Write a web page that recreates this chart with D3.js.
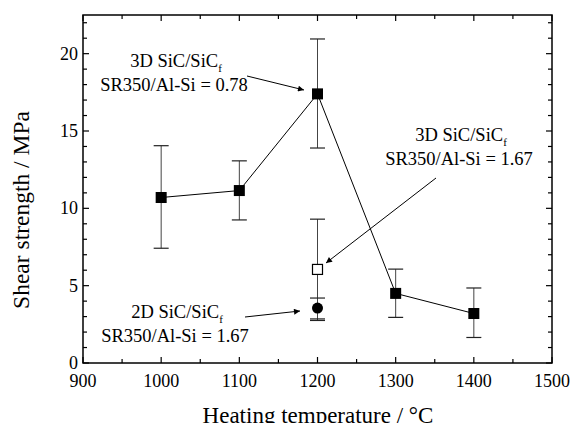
<!DOCTYPE html>
<html>
<head>
<meta charset="utf-8">
<script src="https://cdn.jsdelivr.net/npm/d3@7"></script>
<style>
  body { margin: 0; background: #fff; }
  svg { font-family: 'Liberation Serif', 'DejaVu Serif', serif; }
</style>
</head>
<body>
<div class="container"></div>
<script>
// main series (3D SiC/SiCf, SR350/Al-Si = 0.78)
var temps = [1000, 1100, 1200, 1300, 1400];
var strength = [10.7, 11.15, 17.4, 4.5, 3.2];
var errLow = [7.42, 9.25, 13.9, 2.95, 1.65];
var errHigh = [14.05, 13.07, 20.95, 6.07, 4.85];

// 3D SiC/SiCf, SR350/Al-Si = 1.67 (open square)
var openT = [1200];
var openVal = [6.05];
var openLow = [2.75];
var openHigh = [9.3];

// 2D SiC/SiCf, SR350/Al-Si = 1.67 (circle)
var circT = [1200];
var circVal = [3.55];
var circLow = [2.85];
var circHigh = [4.2];

var xTicks = [900, 1000, 1100, 1200, 1300, 1400, 1500];
var yTicks = [0, 5, 10, 15, 20];

var width = 572, height = 423;
var pLeft = 83, pRight = 552, pTop = 15, pBottom = 363;
var serif = "'Liberation Serif', 'DejaVu Serif', serif";

var x = d3.scaleLinear().domain([900, 1500]).range([pLeft, pRight]);
var y = d3.scaleLinear().domain([0, 22.5]).range([pBottom, pTop]);

var svg = d3.select('.container')
    .append('svg')
    .attr('width', width)
    .attr('height', height)
    .attr('font-family', serif);

// minor ticks / major ticks, all pointing inward
var xMinor = d3.range(900, 1501, 50);
var yMinor = d3.range(0, 22.6, 1);

function tickLen(major) { return major ? 6 : 4; }

svg.append('g').selectAll('line')
    .data(xMinor)
    .enter()
    .append('line')
    .attr('x1', d => x(d)).attr('x2', d => x(d))
    .attr('y1', pBottom).attr('y2', d => pBottom - tickLen(d % 100 == 0))
    .style('stroke', 'black').style('stroke-width', 1.2);

svg.append('g').selectAll('line')
    .data(xMinor)
    .enter()
    .append('line')
    .attr('x1', d => x(d)).attr('x2', d => x(d))
    .attr('y1', pTop).attr('y2', d => pTop + tickLen(d % 100 == 0))
    .style('stroke', 'black').style('stroke-width', 1.2);

svg.append('g').selectAll('line')
    .data(yMinor)
    .enter()
    .append('line')
    .attr('x1', pLeft).attr('x2', d => pLeft + tickLen(d % 5 == 0))
    .attr('y1', d => y(d)).attr('y2', d => y(d))
    .style('stroke', 'black').style('stroke-width', 1.2);

svg.append('g').selectAll('line')
    .data(yMinor)
    .enter()
    .append('line')
    .attr('x1', pRight).attr('x2', d => pRight - tickLen(d % 5 == 0))
    .attr('y1', d => y(d)).attr('y2', d => y(d))
    .style('stroke', 'black').style('stroke-width', 1.2);

// frame
svg.append('rect')
    .attr('x', pLeft).attr('y', pTop)
    .attr('width', pRight - pLeft).attr('height', pBottom - pTop)
    .style('fill', 'none').style('stroke', 'black').style('stroke-width', 1.5);

// tick labels
svg.append('g').selectAll('text')
    .data(xTicks)
    .enter()
    .append('text')
    .attr('x', d => x(d))
    .attr('y', 387)
    .attr('text-anchor', 'middle')
    .style('font-family', serif)
    .style('font-size', '18px')
    .text(d => d);

svg.append('g').selectAll('text')
    .data(yTicks)
    .enter()
    .append('text')
    .attr('x', pLeft - 5)
    .attr('y', d => y(d) + 6)
    .attr('text-anchor', 'end')
    .style('font-family', serif)
    .style('font-size', '18px')
    .text(d => d);

// axis titles
svg.append('text')
    .attr('x', 318)
    .attr('y', 423)
    .attr('text-anchor', 'middle')
    .style('font-family', serif)
    .style('font-size', '23px')
    .text('Heating temperature / \u00B0C');

svg.append('text')
    .attr('transform', 'translate(29,' + 210 + ') rotate(-90)')
    .attr('text-anchor', 'middle')
    .style('font-family', serif)
    .style('font-size', '23.5px')
    .text('Shear strength / MPa');

// error bars
function errBars(tx, lo, hi) {
    var g = svg.append('g');
    g.selectAll('line.v')
        .data(tx)
        .enter()
        .append('line')
        .attr('x1', d => x(d)).attr('x2', d => x(d))
        .attr('y1', (d, i) => y(lo[i])).attr('y2', (d, i) => y(hi[i]))
        .style('stroke', '#444').style('stroke-width', 1);
    [lo, hi].forEach(function(arr) {
        g.selectAll(null)
            .data(tx)
            .enter()
            .append('line')
            .attr('x1', d => x(d) - 7.5).attr('x2', d => x(d) + 7.5)
            .attr('y1', (d, i) => y(arr[i])).attr('y2', (d, i) => y(arr[i]))
            .style('stroke', '#222').style('stroke-width', 1.2);
    });
}

errBars(temps, errLow, errHigh);
errBars(openT, openLow, openHigh);
errBars(circT, circLow, circHigh);

// connecting line
var line = d3.line()
    .x(d => x(d[0]))
    .y(d => y(d[1]));

svg.append('path')
    .datum(temps.map((t, i) => [t, strength[i]]))
    .attr('d', line)
    .style('fill', 'none').style('stroke', 'black').style('stroke-width', 1);

// markers
svg.append('g').selectAll('rect')
    .data(temps)
    .enter()
    .append('rect')
    .attr('x', d => x(d) - 5.5)
    .attr('y', (d, i) => y(strength[i]) - 5.5)
    .attr('width', 11).attr('height', 11)
    .style('fill', 'black');

svg.append('g').selectAll('rect')
    .data(openT)
    .enter()
    .append('rect')
    .attr('x', d => x(d) - 5)
    .attr('y', (d, i) => y(openVal[i]) - 5)
    .attr('width', 10).attr('height', 10)
    .style('fill', 'white').style('stroke', 'black').style('stroke-width', 1.2);

svg.append('g').selectAll('circle')
    .data(circT)
    .enter()
    .append('circle')
    .attr('cx', d => x(d))
    .attr('cy', (d, i) => y(circVal[i]))
    .attr('r', 5.5)
    .style('fill', 'black');

// annotations
svg.append('defs').append('marker')
    .attr('id', 'arr')
    .attr('viewBox', '0 0 10 10')
    .attr('refX', 10).attr('refY', 5)
    .attr('markerWidth', 12).attr('markerHeight', 6)
    .attr('markerUnits', 'userSpaceOnUse')
    .attr('orient', 'auto')
    .append('path')
    .attr('d', 'M0,0 L10,5 L0,10 Z')
    .style('fill', 'black');

function note(cx, y1, sub, line2, sx, sy, ex, ey) {
    var t = svg.append('text')
        .attr('x', cx).attr('y', y1)
        .attr('text-anchor', 'middle')
        .style('font-family', serif)
        .style('font-size', '18.5px');
    t.append('tspan').text(sub);
    t.append('tspan').attr('dy', 5).style('font-size', '11px').text('f');
    svg.append('text')
        .attr('x', cx - 2).attr('y', y1 + 24)
        .attr('text-anchor', 'middle')
        .style('font-family', serif)
        .style('font-size', '18.5px')
        .text(line2);
    svg.append('line')
        .attr('x1', sx).attr('y1', sy).attr('x2', ex).attr('y2', ey)
        .style('stroke', 'black').style('stroke-width', 1)
        .attr('marker-end', 'url(#arr)');
}

note(176, 67, '3D SiC/SiC', 'SR350/Al-Si = 0.78', 247, 76, 304, 90);
note(461, 141, '3D SiC/SiC', 'SR350/Al-Si = 1.67', 436, 178, 326, 263);
note(177, 318, '2D SiC/SiC', 'SR350/Al-Si = 1.67', 245, 317, 300, 311);
</script>
</body>
</html>
